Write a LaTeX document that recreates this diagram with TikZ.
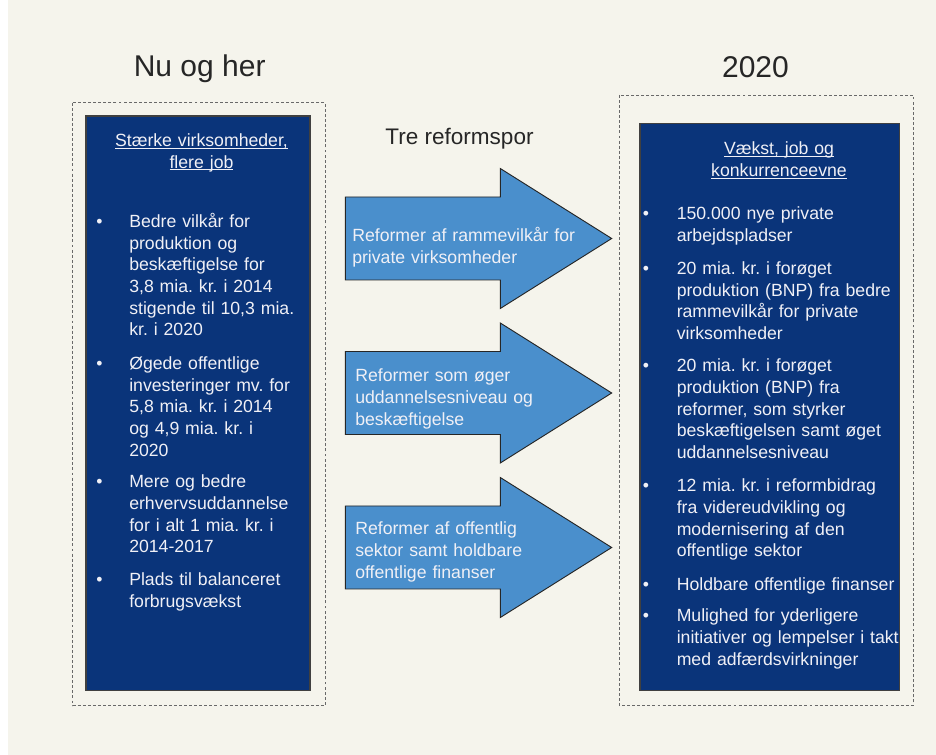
\documentclass[tikz,border=0pt]{standalone}
\usepackage{fontspec}
\setmainfont{Liberation Sans}
\usepackage{xcolor}
\usepackage{tikz}
\definecolor{pagebg}{RGB}{245,244,236}
\definecolor{boxblue}{RGB}{10,52,122}
\definecolor{arrowblue}{RGB}{74,143,204}
\definecolor{dashgrey}{RGB}{105,105,105}
\definecolor{textwhite}{RGB}{240,240,246}
\newsavebox\ulbox
\newcommand\ulin[1]{\leavevmode\sbox\ulbox{#1}\rlap{\rule[-1.5pt]{\wd\ulbox}{0.7pt}}\usebox\ulbox}
\newcommand\bodyfont{\fontsize{13.25}{16.3}\selectfont\frenchspacing}
\tikzset{
  heading/.style={anchor=base,inner sep=0pt,font=\fontsize{22.5}{27}\selectfont,text=black!85},
  frame/.style={draw=dashgrey,line width=0.7pt,dash pattern=on 2.2pt off 1.6pt},
  bluebox/.style={draw=black!75,line width=0.9pt,fill=boxblue},
  blockarrow/.style={draw=black!85,line width=0.7pt,fill=arrowblue},
  boxtitle/.style={anchor=base,inner sep=0pt,align=center,text width=180pt,font=\bodyfont,text=textwhite},
  bullet/.style={anchor=base west,inner sep=0pt,font=\bodyfont,text=textwhite},
  itemtext/.style={anchor=base west,inner sep=0pt,align=left,text width=#1,font=\bodyfont,text=textwhite},
  itemtext/.default=150pt
}
\begin{document}
\begin{tikzpicture}[x=0.75pt,y=-0.75pt]
\useasboundingbox (0,0) rectangle (936,755);
\fill[white] (0,0) rectangle (936,755);
\fill[pagebg] (8,0) rectangle (936,755);

% headings
\node[heading] (nu) at (199.7,76.7) {Nu og her};
\node[heading] (tyve) at (755.5,77.3) {2020};
\node[heading,font=\fontsize{16.9}{20}\selectfont] (spor) at (459.5,145) {Tre reformspor};

% dashed frames and blue boxes
\draw[frame] (72.7,102.7) rectangle (325,705.7);
\draw[frame] (619,95) rectangle (913.3,705);
\draw[bluebox] (86,116) rectangle (310,690.7);
\draw[bluebox] (640,123.3) rectangle (899.3,690.7);

% left box
\node[boxtitle] (ltitle) at (201.5,146.7) {\ulin{Stærke virksomheder,}\\ \ulin{flere job}};
\node[bullet] (lb1) at (96,227.3) {•};
\node[itemtext] (l1) at (129,227.3) {Bedre vilkår for\\ produktion og\\ beskæftigelse for\\ 3,8 mia. kr. i 2014\\ stigende til 10,3 mia.\\ kr. i 2020};
\node[bullet] (lb2) at (96,369.5) {•};
\node[itemtext] (l2) at (129,369.5) {Øgede offentlige\\ investeringer mv. for\\ 5,8 mia. kr. i 2014\\ og 4,9 mia. kr. i\\ 2020};
\node[bullet] (lb3) at (96,487.7) {•};
\node[itemtext] (l3) at (129,487.7) {Mere og bedre\\ erhvervsuddannelse\\ for i alt 1 mia. kr. i\\ 2014-2017};
\node[bullet] (lb4) at (96,585.7) {•};
\node[itemtext] (l4) at (129,585.7) {Plads til balanceret\\ forbrugsvækst};

% arrows
\foreach \yc in {238.5,393,547.5}
  \draw[blockarrow] (345.3,\yc-41.5) -- (500.3,\yc-41.5) -- (500.3,\yc-70) -- (611.7,\yc)
    -- (500.3,\yc+70) -- (500.3,\yc+41.5) -- (345.3,\yc+41.5) -- cycle;
\node[itemtext=170pt] (a1) at (352,241.7) {Reformer af rammevilkår for\\ private virksomheder};
\node[itemtext=170pt] (a2) at (355,381.7) {Reformer som øger\\ uddannelsesniveau og\\ beskæftigelse};
\node[itemtext=170pt] (a3) at (355,535) {Reformer af offentlig\\ sektor samt holdbare\\ offentlige finanser};

% right box
\node[boxtitle] (rtitle) at (779,155) {\ulin{Vækst, job og}\\ \ulin{konkurrenceevne}};
\node[bullet] (rb1) at (642.5,219.3) {•};
\node[itemtext=175pt] (r1) at (676.5,219.3) {150.000 nye private\\ arbejdspladser};
\node[bullet] (rb2) at (642.5,274.3) {•};
\node[itemtext=175pt] (r2) at (676.5,274.3) {20 mia. kr. i forøget\\ produktion (BNP) fra bedre\\ rammevilkår for private\\ virksomheder};
\node[bullet] (rb3) at (642.5,371.7) {•};
\node[itemtext=175pt] (r3) at (676.5,371.7) {20 mia. kr. i forøget\\ produktion (BNP) fra\\ reformer, som styrker\\ beskæftigelsen samt øget\\ uddannelsesniveau};
\node[bullet] (rb4) at (642.5,491.7) {•};
\node[itemtext=175pt] (r4) at (676.5,491.7) {12 mia. kr. i reformbidrag\\ fra videreudvikling og\\ modernisering af den\\ offentlige sektor};
\node[bullet] (rb5) at (642.5,590) {•};
\node[itemtext=175pt] (r5) at (676.5,590) {Holdbare offentlige finanser};
\node[bullet] (rb6) at (642.5,621.7) {•};
\node[itemtext=175pt] (r6) at (676.5,621.7) {Mulighed for yderligere\\ initiativer og lempelser i takt\\ med adfærdsvirkninger};
\end{tikzpicture}
\end{document}
